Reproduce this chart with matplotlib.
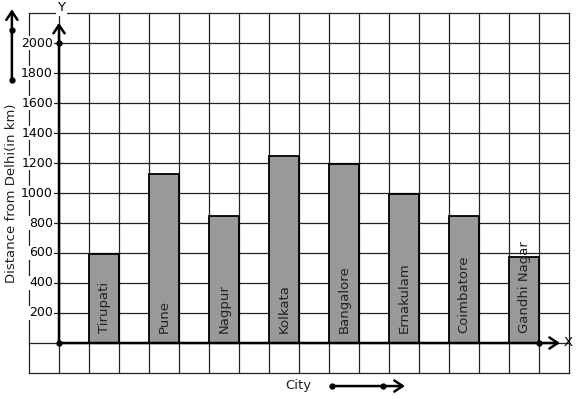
import numpy as np
import matplotlib.pyplot as plt

# ---------- DATA ----------
cities = ['Tirupati', 'Pune', 'Nagpur', 'Kolkata', 'Bangalore',
          'Ernakulam', 'Coimbatore', 'Gandhi Nagar']
distance = [595, 1130, 850, 1250, 1195, 993, 850, 572]
y_ticks = [200, 400, 600, 800, 1000, 1200, 1400, 1600, 1800, 2000]

# ---------- LAYOUT ----------
# one grid cell = 1 unit on x, 200 km on y
fig = plt.figure(figsize=(5.77, 3.99), dpi=100)
ax = fig.add_axes([0, 0, 1, 1])
ax.set_xlim(-59 / 30, (577 - 59) / 30)
ax.set_ylim(-56 / 0.15, 343 / 0.15)
ax.axis('off')

# grid
for gx in range(-1, 18):
    ax.plot([gx, gx], [-200, 2200], color='#222222', lw=0.9, zorder=1)
for gy in range(-200, 2201, 200):
    ax.plot([-1, 17], [gy, gy], color='#222222', lw=0.9, zorder=1)

# bars
xpos = np.arange(len(cities)) * 2 + 1.5
ax.bar(xpos, distance, width=1, color='#999999', edgecolor='black',
       linewidth=1.3, zorder=2)
for x, name in zip(xpos, cities):
    ax.text(x, 68, name, rotation=90, ha='center', va='bottom',
            fontsize=9.5, color='#222222', zorder=4)

# axes with arrows
arrow = dict(arrowstyle='->, head_length=0.6, head_width=0.4',
             lw=1.8, color='black', shrinkA=0, shrinkB=0)
ax.annotate('', xy=(0, 2135), xytext=(0, 0), arrowprops=arrow, zorder=3)
ax.annotate('', xy=(16.7, 0), xytext=(0, 0), arrowprops=arrow, zorder=3)
ax.plot([0, 0, 16], [0, 2000, 0], 'o', color='black', ms=3.5, zorder=4)
ax.text(0.07, 2235, 'Y', ha='center', va='center', fontsize=9.5,
        bbox=dict(fc='white', ec='none', pad=1), zorder=4)
ax.text(16.97, 0, 'X', ha='center', va='center', fontsize=9.5, zorder=4)

# y tick labels
for t in y_ticks:
    ax.text(-0.2, t, str(t), ha='right', va='center', fontsize=9,
            bbox=dict(fc='white', ec='none', pad=0.5), zorder=4)

# axis titles with their little arrows
ax.text(-1.57, 400, 'Distance from Delhi(in km)', rotation=90,
        ha='center', va='bottom', fontsize=9.5, color='#222222')
ax.annotate('', xy=(-1.57, 2225), xytext=(-1.57, 1753), arrowprops=arrow)
ax.plot([-1.57, -1.57], [1753, 2087], 'o', color='black', ms=3.5)

ax.text(7.97, -280, 'City', ha='center', va='center', fontsize=9.5,
        color='#222222')
ax.annotate('', xy=(11.53, -287), xytext=(9.1, -287), arrowprops=arrow)
ax.plot([9.1, 10.8], [-287, -287], 'o', color='black', ms=3.5)

plt.savefig('out.png', dpi=100)
